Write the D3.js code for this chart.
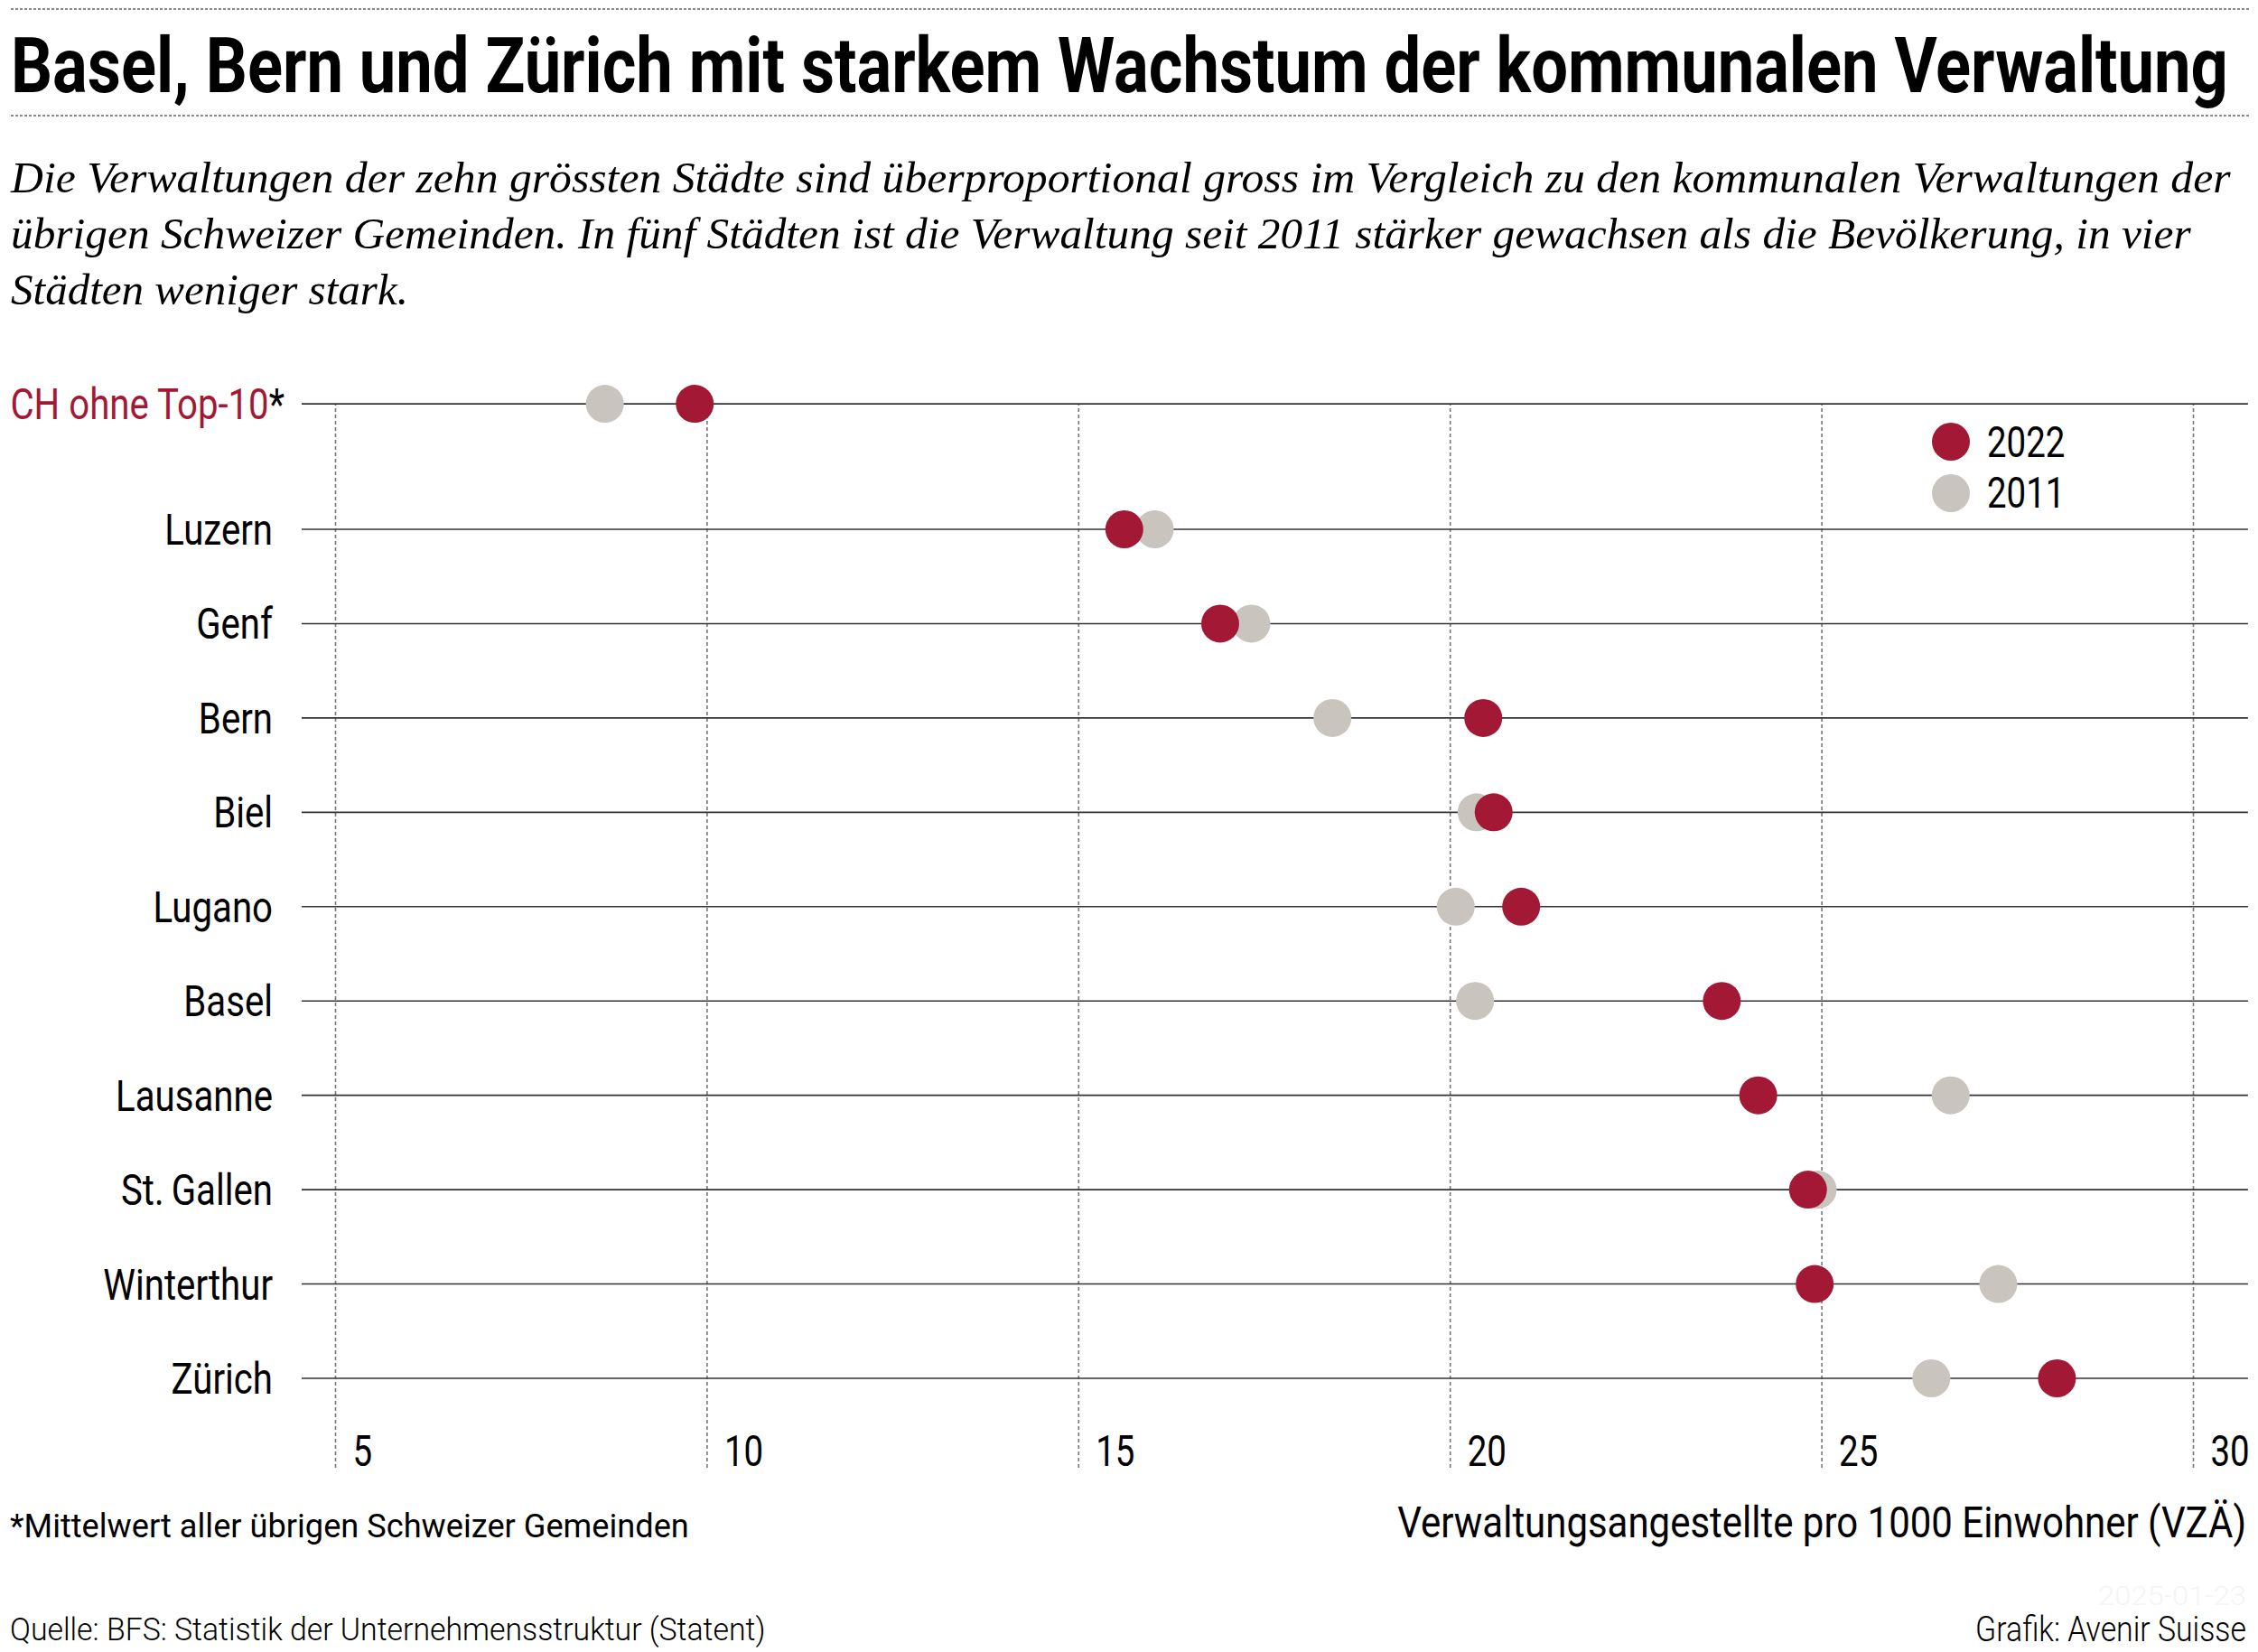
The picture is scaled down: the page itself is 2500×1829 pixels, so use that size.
<!DOCTYPE html>
<html>
<head>
<meta charset="utf-8">
<script src="https://cdn.jsdelivr.net/npm/d3@7"></script>
<style>
  body { margin: 0; background: #fff; }
  svg { display: block; }
</style>
</head>
<body>
<script>
// --- data ---
const title = "Basel, Bern und Zürich mit starkem Wachstum der kommunalen Verwaltung";
const subtitleLines = [
  "Die Verwaltungen der zehn grössten Städte sind überproportional gross im Vergleich zu den kommunalen Verwaltungen der",
  "übrigen Schweizer Gemeinden. In fünf Städten ist die Verwaltung seit 2011 stärker gewachsen als die Bevölkerung, in vier",
  "Städten weniger stark."
];
const cities = ["Luzern", "Genf", "Bern", "Biel", "Lugano", "Basel", "Lausanne", "St.\u2009Gallen", "Winterthur", "Zürich"];
const values2022 = [15.62, 16.91, 20.45, 20.59, 20.96, 23.66, 24.15, 24.82, 24.91, 28.17];
const values2011 = [16.03, 17.33, 18.42, 20.36, 20.08, 20.34, 26.74, 24.95, 27.38, 26.48];
const chLabel = "CH ohne Top-10";
const ch2022 = 9.84;
const ch2011 = 8.63;
const xTicks = [5, 10, 15, 20, 25, 30];
const legendYears = ["2022", "2011"];
const footnote = "*Mittelwert aller übrigen Schweizer Gemeinden";
const axisTitle = "Verwaltungsangestellte pro 1000 Einwohner (VZÄ)";
const source = "Quelle: BFS: Statistik der Unternehmensstruktur (Statent)";
const credit = "Grafik: Avenir Suisse";
const stamp = "2025-01-23";

const W = 2500, H = 1829;
const RED = "#a31834", GREY = "#c9c4bd";
const sans = "Roboto, 'DejaVu Sans', sans-serif";
const serif = "'Liberation Serif', 'DejaVu Serif', serif";

const svg = d3.select("body").append("svg")
  .attr("width", W)
  .attr("height", H);

svg.append("rect").attr("width", W).attr("height", H).attr("fill", "#fff");

// puts a text at (px,py); squeezes it horizontally by k, or to a given width
function putText(str, px, py, o) {
  const g = svg.append("g").attr("transform", "translate(" + px + "," + py + ")");
  const t = g.append("text")
    .attr("font-family", o.family || sans)
    .attr("font-size", o.size)
    .attr("font-weight", o.weight || 400)
    .attr("font-style", o.style || "normal")
    .attr("fill", o.fill || "#000")
    .attr("text-anchor", o.anchor || "start")
    .text(str);
  let k = o.k || 0.8;
  if (o.width) k = o.width / t.node().getComputedTextLength();
  t.attr("transform", "scale(" + k + ",1)");
  return t;
}

// --- header ---
[10, 128].forEach(function(yy) {
  svg.append("line")
    .attr("x1", 12).attr("x2", 2490)
    .attr("y1", yy).attr("y2", yy)
    .attr("stroke", "#8a8a8a")
    .attr("stroke-width", 2)
    .attr("stroke-dasharray", "3,2");
});

putText(title, 12, 102, { size: 86, weight: 700, width: 2455 });

const subWidths = [2458, 2414, 440];
subtitleLines.forEach(function(s, i) {
  putText(s, 12, 213 + i * 62, { family: serif, size: 48, style: "italic", width: subWidths[i] });
});

// --- scales ---
const x = d3.scaleLinear().domain([5, 30]).range([371, 2428]);
const y = d3.scaleLinear().domain([0, 9]).range([586, 1526]);
const yCH = y(-1.33);
const xLeft = x(4.55), xRight = x(30.74);
const gridBottom = 1625;

// grid lines + tick labels via axis
const axis = svg.append("g")
  .attr("transform", "translate(0," + gridBottom + ")")
  .call(d3.axisBottom(x).tickValues(xTicks).tickSize(-(gridBottom - yCH)).tickFormat(d3.format("d")));
axis.select(".domain").remove();
axis.selectAll(".tick line")
  .attr("stroke", "#777")
  .attr("stroke-width", 1.6)
  .attr("stroke-dasharray", "4,3");
axis.selectAll(".tick text")
  .attr("x", 0).attr("y", 0).attr("dy", 0)
  .attr("text-anchor", "start")
  .attr("font-family", sans)
  .attr("font-size", 48)
  .attr("fill", "#000")
  .attr("transform", "translate(19,-2) scale(0.8,1)");

// row lines
const rowYs = [yCH].concat(cities.map(function(d, i) { return y(i); }));
svg.append("g").selectAll("line")
  .data(rowYs)
  .enter()
    .append("line")
    .attr("x1", xLeft).attr("x2", xRight)
    .attr("y1", function(d) { return d; })
    .attr("y2", function(d) { return d; })
    .attr("stroke", "#333")
    .attr("stroke-width", 1.6);

// city labels
cities.forEach(function(c, i) {
  putText(c, 302, y(i) + 17, { size: 49, anchor: "end", k: 0.82 });
});

// CH label, red with black asterisk
const chG = svg.append("g").attr("transform", "translate(315," + (yCH + 17) + ")");
const chT = chG.append("text")
  .attr("font-family", sans)
  .attr("font-size", 49)
  .attr("text-anchor", "end")
  .attr("transform", "scale(0.82,1)");
chT.append("tspan").attr("fill", RED).text(chLabel);
chT.append("tspan").attr("fill", "#000").text("*");

// dots: 2011 below, 2022 on top
const r = 21;
svg.append("g").selectAll("circle")
  .data([ch2011].concat(values2011))
  .enter()
    .append("circle")
    .attr("cx", function(d) { return x(d); })
    .attr("cy", function(d, i) { return rowYs[i]; })
    .attr("r", r)
    .attr("fill", GREY);

svg.append("g").selectAll("circle")
  .data([ch2022].concat(values2022))
  .enter()
    .append("circle")
    .attr("cx", function(d) { return x(d); })
    .attr("cy", function(d, i) { return rowYs[i]; })
    .attr("r", r)
    .attr("fill", RED);

// legend
const legendColors = [RED, GREY];
legendYears.forEach(function(yr, i) {
  svg.append("circle")
    .attr("cx", 2160).attr("cy", 489 + i * 57)
    .attr("r", r)
    .attr("fill", legendColors[i]);
  putText(yr, 2200, 506 + i * 56, { size: 48, k: 0.8 });
});

// --- footer ---
putText(footnote, 11, 1702, { size: 36, width: 752 });
putText(axisTitle, 2487, 1702, { size: 49, anchor: "end", width: 940 });
putText(source, 11, 1816, { size: 36, weight: 300, width: 837 });
putText(credit, 2487, 1817, { size: 38, weight: 300, anchor: "end", width: 300 });
putText(stamp, 2487, 1777, { size: 30, weight: 300, anchor: "end", width: 164, fill: "#f4f4f4" });
</script>
</body>
</html>
